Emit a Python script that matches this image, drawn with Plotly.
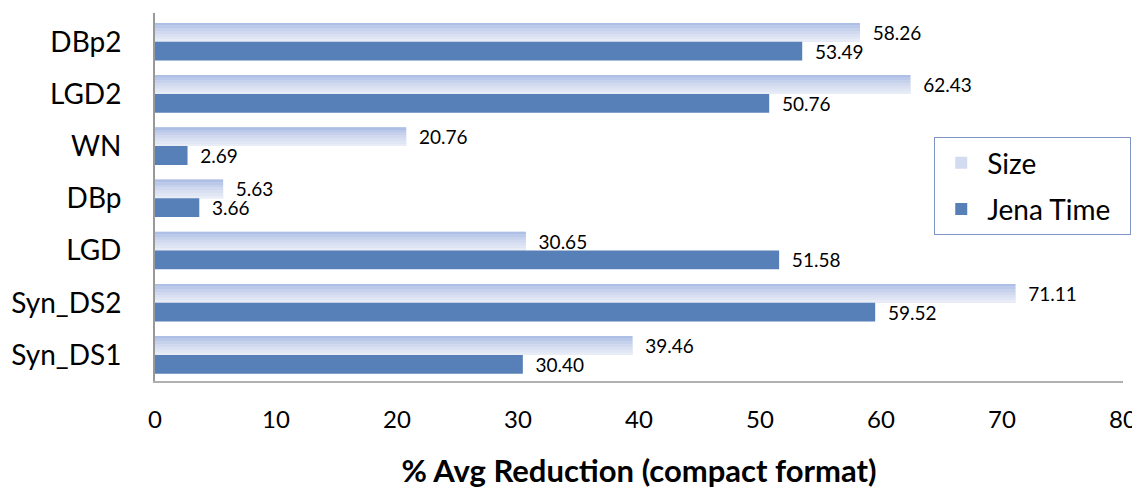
import plotly.graph_objects as go

categories = ["DBp2", "LGD2", "WN", "DBp", "LGD", "Syn_DS2", "Syn_DS1"]
size_vals = [58.26, 62.43, 20.76, 5.63, 30.65, 71.11, 39.46]
jena_vals = [53.49, 50.76, 2.69, 3.66, 51.58, 59.52, 30.40]
x_ticks = [0, 10, 20, 30, 40, 50, 60, 70, 80]

FONT = "Lato, 'Open Sans', sans-serif"
BW = 0.36  # bar thickness in category units
JENA_COLOR = "#5880b8"
SIZE_BASE = "#d3dbf0"
# gradient strips for the Size bars (top -> bottom)
strip_colors = ["#aebfe5", "#bac8e9", "#c6d1ec", "#d0d9ef", "#d9e0f2", "#e1e6f5", "#e8ecf7"]
PAD = "\u00a0\u00a0"

fig = go.Figure()

fig.add_trace(go.Bar(
    y=categories, x=size_vals, orientation="h", name="Size",
    marker=dict(color=SIZE_BASE, line=dict(width=0)),
    width=BW, offset=0,
    text=[PAD + f"{v:.2f}" for v in size_vals], textposition="outside",
    constraintext="none",
    textfont=dict(family=FONT, size=19, color="#000"),
    cliponaxis=False, legendgroup="a",
))
n = len(strip_colors)
h = BW / n
for i, c in enumerate(strip_colors):
    fig.add_trace(go.Bar(
        y=categories, x=size_vals, orientation="h",
        marker=dict(color=c, line=dict(width=0)),
        width=h, offset=BW - (i + 1) * h,
        showlegend=False, hoverinfo="skip",
    ))

fig.add_trace(go.Bar(
    y=categories, x=jena_vals, orientation="h", name="Jena Time\u00a0\u00a0",
    marker=dict(color=JENA_COLOR, line=dict(width=0)),
    width=BW, offset=-BW,
    text=[PAD + f"{v:.2f}" for v in jena_vals], textposition="outside",
    constraintext="none",
    textfont=dict(family=FONT, size=19, color="#000"),
    cliponaxis=False, legendgroup="b",
))

fig.update_layout(
    width=1132, height=481,
    barmode="overlay",
    plot_bgcolor="white", paper_bgcolor="white",
    margin=dict(l=147, r=17, t=5, b=108, autoexpand=False),
    font=dict(family=FONT, color="#000"),
    legend=dict(
        x=0.805, y=0.663, xanchor="left", yanchor="top",
        bordercolor="#7f95c6", borderwidth=1,
        font=dict(family=FONT, size=28),
        tracegroupgap=7, traceorder="grouped",
        itemwidth=42,
    ),
    xaxis=dict(
        range=[0, 80], tickvals=x_ticks, ticktext=[str(t) for t in x_ticks],
        showgrid=False, zeroline=False, showline=True, linecolor="#b0b0b0", linewidth=1.5,
        ticks="", tickfont=dict(family=FONT, size=24), ticklabelstandoff=16,
        automargin=False,
        title=dict(text="<b>% Avg Reduction (compact format)</b>",
                   font=dict(family=FONT, size=31), standoff=39),
    ),
    yaxis=dict(
        categoryorder="array", categoryarray=categories[::-1],
        range=[-0.5, 6.55], automargin=False,
        showgrid=False, zeroline=False, showline=True, linecolor="#999999", linewidth=2,
        ticks="", tickfont=dict(family=FONT, size=28), ticklabelstandoff=26,
    ),
)

fig.write_html("out.html")
